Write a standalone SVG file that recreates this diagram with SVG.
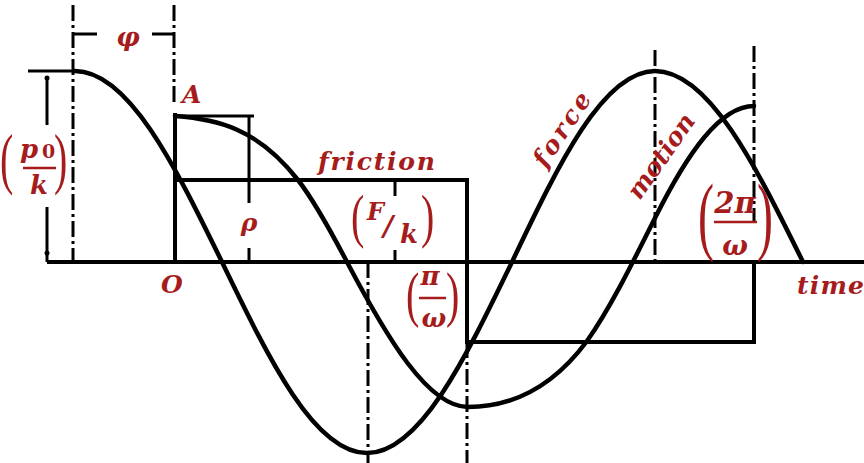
<svg xmlns="http://www.w3.org/2000/svg" width="864" height="463" viewBox="0 0 864 463">
<style>
.ln{stroke:#000;stroke-width:4;fill:none;stroke-linecap:butt}
.cv{stroke:#000;stroke-width:4.5;fill:none;stroke-linecap:round;stroke-linejoin:round}
.dim{stroke:#000;stroke-width:3;fill:none}
.dd{stroke:#000;stroke-width:3;fill:none;stroke-dasharray:16 4 3 4}
.t{font-family:"DejaVu Serif","Liberation Serif",serif;font-weight:bold;font-style:italic;fill:#a61c1c}
.up{font-style:normal}
.par{font-family:"Liberation Serif","DejaVu Serif",serif;font-size:40px;fill:#a61c1c}
.bar{stroke:#a61c1c;stroke-width:2.5}
</style>
<rect width="864" height="463" fill="#fff"/>
<g id="connectors">
  <g id="axis"><line class="ln" x1="47" y1="262" x2="864" y2="262"/></g>
  <g id="centerlines">
    <line class="dd" x1="73" y1="5" x2="73" y2="262"/>
    <line class="dd" x1="174" y1="5" x2="174" y2="106"/>
    <line class="dd" x1="368" y1="262" x2="368" y2="463"/>
    <line class="dd" x1="467" y1="342" x2="467" y2="463"/>
    <line class="dd" x1="655" y1="50" x2="655" y2="262"/>
    <line class="dd" x1="754" y1="46" x2="754" y2="222"/>
  </g>
  <g id="friction">
    <polyline class="ln" points="175,113 175,262"/>
    <polyline class="ln" points="175,180 467,180 467,342 754,342 754,262"/>
  </g>
  <g id="force">
    <path class="cv" d="M75,71 C128.2,71 174.1,164.2 222,262 C269.3,359.8 314.5,453 367,453 C419.5,453 464.7,359.8 512,262 C558.6,164.2 603.2,71 655,71 C708.6,71 754.7,164.2 803,262"/>
  </g>
  <g id="motion">
    <path class="cv" d="M175,116 C216,119 257,127.5 298,180 C314.3,200.9 330.7,231 347,262 C387,338 428,407 468,407 C508,407 550,391 587,341 C609.7,309.2 632.3,263.4 655,218 C687.7,152.6 720.3,106 754,106"/>
  </g>
  <g id="dimensions">
    <line class="dim" x1="28" y1="71" x2="75" y2="71"/>
    <line class="dim" x1="47" y1="76" x2="47" y2="125"/>
    <line class="dim" x1="47" y1="207" x2="47" y2="262"/>
    <circle cx="47" cy="78" r="2.5"/>
    <circle cx="47" cy="253" r="2.5"/>
    <line class="dim" x1="73" y1="34" x2="97" y2="34"/>
    <line class="dim" x1="152" y1="34" x2="174" y2="34"/>
    <line class="dim" x1="175" y1="116" x2="254" y2="116"/>
    <line class="dim" x1="249" y1="116" x2="249" y2="203"/>
    <line class="dim" x1="249" y1="248" x2="249" y2="262"/>
    <line class="dim" x1="395" y1="180" x2="395" y2="196"/>
    <line class="dim" x1="395" y1="250" x2="395" y2="262"/>
  </g>
</g>
<g id="labels">
  <g id="lbl-phi"><text class="t" x="128" y="46" font-size="26" text-anchor="middle">φ</text></g>
  <g id="lbl-A"><text class="t" x="182" y="103" font-size="25">A</text></g>
  <g id="lbl-O"><text class="t" x="172" y="293" font-size="25" text-anchor="middle">O</text></g>
  <g id="lbl-rho"><text class="t" x="249" y="231" font-size="25" text-anchor="middle">ρ</text></g>
  <g id="lbl-friction"><text class="t" x="318" y="170" font-size="25" textLength="117" lengthAdjust="spacing">friction</text></g>
  <g id="lbl-time"><text class="t" x="797" y="294" font-size="25" textLength="67" lengthAdjust="spacing">time</text></g>
  <g id="lbl-force"><text class="t" transform="translate(569,134) rotate(-56.5)" font-size="25" text-anchor="middle" textLength="84" lengthAdjust="spacing">force</text></g>
  <g id="lbl-motion"><text class="t" transform="translate(668,161) rotate(-54.8)" font-size="25" text-anchor="middle" textLength="98" lengthAdjust="spacing">motion</text></g>
  <g id="lbl-p0k">
    <text class="par" transform="translate(0,181) scale(1,1.667)">(</text>
    <text class="t" x="20" y="158" font-size="26">p</text>
    <text class="t up" x="42" y="158" font-size="19">0</text>
    <line class="bar" x1="23" y1="168" x2="56" y2="168"/>
    <text class="t" x="39" y="194" font-size="26" text-anchor="middle">k</text>
    <text class="par" transform="translate(54,181) scale(1,1.667)">)</text>
  </g>
  <g id="lbl-Fk">
    <text class="par" transform="translate(351,235.6) scale(1,1.47)">(</text>
    <text class="t" x="367" y="220" font-size="24">F</text>
    <text class="t" x="383" y="236" font-size="28">/</text>
    <text class="t" x="400" y="243" font-size="26">k</text>
    <text class="par" transform="translate(421,235.6) scale(1,1.47)">)</text>
  </g>
  <g id="lbl-piw">
    <text class="par" transform="translate(406,315) scale(1,1.556)">(</text>
    <text class="t" x="430" y="285" font-size="26" text-anchor="middle">π</text>
    <line class="bar" x1="419" y1="298" x2="446" y2="298"/>
    <text class="t" x="434" y="327" font-size="26" text-anchor="middle">ω</text>
    <text class="par" transform="translate(446,315) scale(1,1.556)">)</text>
  </g>
  <g id="lbl-2piw">
    <text class="par" transform="translate(698,243.5) scale(1.2,2.19)">(</text>
    <text class="t" x="735" y="213" font-size="29" text-anchor="middle">2π</text>
    <line class="bar" x1="714" y1="222" x2="757" y2="222"/>
    <text class="t" x="735" y="255" font-size="27" text-anchor="middle">ω</text>
    <text class="par" transform="translate(757,243.5) scale(1.2,2.19)">)</text>
  </g>
</g>
</svg>
